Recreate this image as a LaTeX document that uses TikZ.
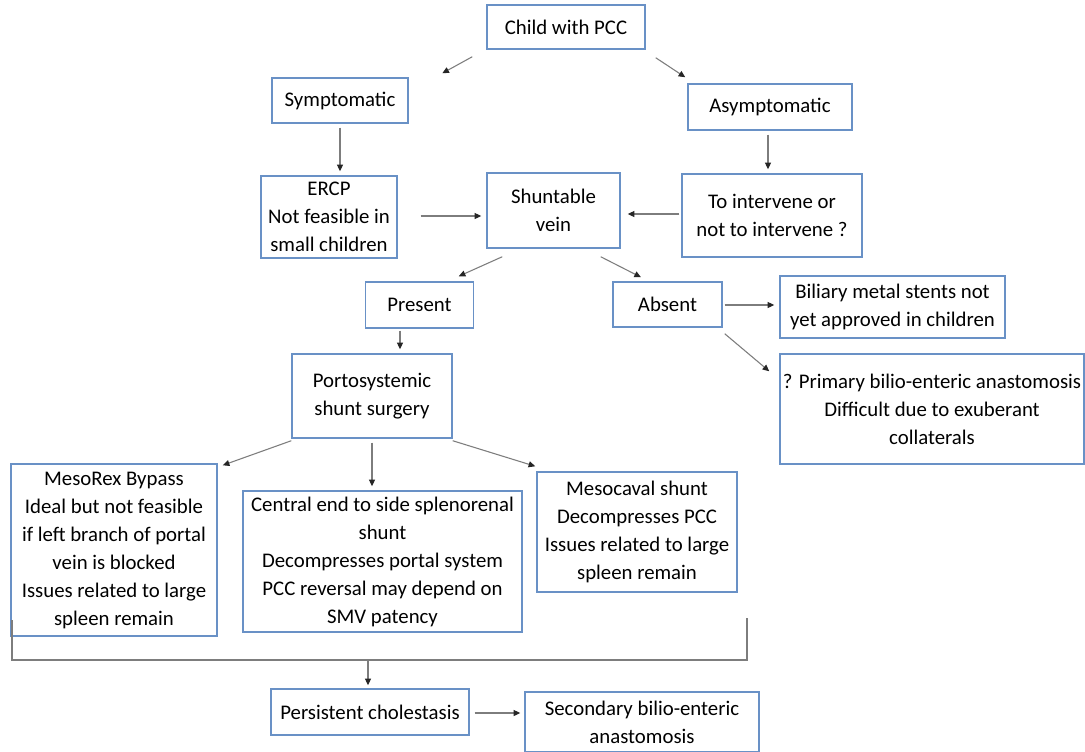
\documentclass[tikz,border=0pt]{standalone}
\usepackage{fontspec}
\setmainfont{Carlito}
\usetikzlibrary{arrows.meta,calc}
\definecolor{boxblue}{RGB}{105,145,198}
\definecolor{linegrey}{RGB}{125,125,125}
\tikzset{
  bx/.style={draw=boxblue, line width=1.1pt, fill=white, align=center, inner sep=2pt,
    font=\fontsize{15.6}{21}\selectfont},
  arr/.style={draw=linegrey, line width=0.8pt, -{Triangle[length=5pt,width=4.5pt,color=black!85]}},
  brk/.style={draw=linegrey, line width=0.9pt}
}
\begin{document}
\begin{tikzpicture}[x=0.75pt,y=-0.75pt]
\useasboundingbox[fill=white] (0,0) rectangle (1085,751);
% nodes
\node[bx, minimum width=118.5pt, minimum height=33pt] (child) at (566,27) {Child with PCC};
\node[bx, minimum width=102pt, minimum height=33.75pt] (sym) at (340,100.5) {Symptomatic};
\node[bx, minimum width=123pt, minimum height=34.5pt] (asym) at (770,107) {Asymptomatic};
\node[bx, minimum width=102pt, minimum height=61.5pt] (ercp) at (329,217) {ERCP\\Not feasible in\\small children};
\node[bx, minimum width=99.75pt, minimum height=56.25pt] (shunt) at (553.5,210.5) {Shuntable\\vein};
\node[bx, minimum width=135pt, minimum height=62.25pt] (interv) at (772,215.5) {To intervene or\\not to intervene ?};
\node[bx, minimum width=81pt, minimum height=34.5pt] (present) at (419.5,305) {Present};
\node[bx, minimum width=81.75pt, minimum height=33.75pt] (absent) at (667.5,304.5) {Absent};
\node[bx, minimum width=168.75pt, minimum height=46.5pt] (biliary) at (892.5,307) {Biliary metal stents not\\yet approved in children};
\node[bx, minimum width=228pt, minimum height=82.5pt] (primary) at (932,409) {? Primary bilio-enteric anastomosis\\Difficult due to exuberant\\collaterals};
\node[bx, minimum width=120pt, minimum height=63pt] (porto) at (372,396) {Portosystemic\\shunt surgery};
\node[bx, minimum width=154.5pt, minimum height=129pt] (mesorex) at (114,550) {MesoRex Bypass\\Ideal but not feasible\\if left branch of portal\\vein is blocked\\Issues related to large\\spleen remain};
\node[bx, minimum width=209.25pt, minimum height=105.75pt] (central) at (382.5,561.5) {Central end to side splenorenal\\shunt\\Decompresses portal system\\PCC reversal may depend on\\SMV patency};
\node[bx, minimum width=150pt, minimum height=90pt] (mesocaval) at (637,532) {Mesocaval shunt\\Decompresses PCC\\Issues related to large\\spleen remain};
\node[bx, minimum width=148.5pt, minimum height=34.5pt] (persist) at (370,712) {Persistent cholestasis};
\node[bx, minimum width=175.5pt, minimum height=45pt] (second) at (642,722) {Secondary bilio-enteric\\anastomosis};
% bracket
\coordinate (bl) at (12,620);
\coordinate (br) at (747,618);
\coordinate (bm) at (368,660);
\draw[brk] (bl) |- (bm) -| (br);
% connectors
\draw[arr] ([shift={(-14,7)}]child.south west) -- ([shift={(171,-4)}]sym.north west);
\draw[arr] ([shift={(10,8)}]child.south east) -- ([shift={(-2,-6)}]asym.north west);
\draw[arr] ([shift={(0,4)}]sym.south) -- ([shift={(11,-4)}]ercp.north);
\draw[arr] ([shift={(-2,4)}]asym.south) -- ([shift={(-4,-4)}]interv.north);
\draw[arr] ([shift={(23,-1)}]ercp.east) -- ([shift={(-5,5.5)}]shunt.west);
\draw[arr] ([shift={(-2,-1.5)}]interv.west) -- ([shift={(7,3.5)}]shunt.east);
\draw[arr] ([shift={(16,8)}]shunt.south west) -- ([shift={(-15.5,-5)}]present.north east);
\draw[arr] ([shift={(-20,8)}]shunt.south east) -- ([shift={(-26.5,-4)}]absent.north);
\draw[arr] ([shift={(2,0.5)}]absent.east) -- ([shift={(-5,-2)}]biliary.west);
\draw[arr] ([shift={(2,6)}]absent.south east) -- ([shift={(-10,18)}]primary.north west);
\draw[arr] ([shift={(-19.5,2)}]present.south) -- ([shift={(28,-4)}]porto.north);
\draw[arr] ([shift={(0,2)}]porto.south west) -- ([shift={(5,2)}]mesorex.north east);
\draw[arr] ([shift={(0,4)}]porto.south) -- ([shift={(-10.5,-4)}]central.north);
\draw[arr] ([shift={(0,2)}]porto.south east) -- ([shift={(-1,-5)}]mesocaval.north west);
\draw[arr] (bm) -- ([shift={(-2,-3)}]persist.north);
\draw[arr] ([shift={(5,1)}]persist.east) -- ([shift={(-4,-9)}]second.west);
\end{tikzpicture}
\end{document}
